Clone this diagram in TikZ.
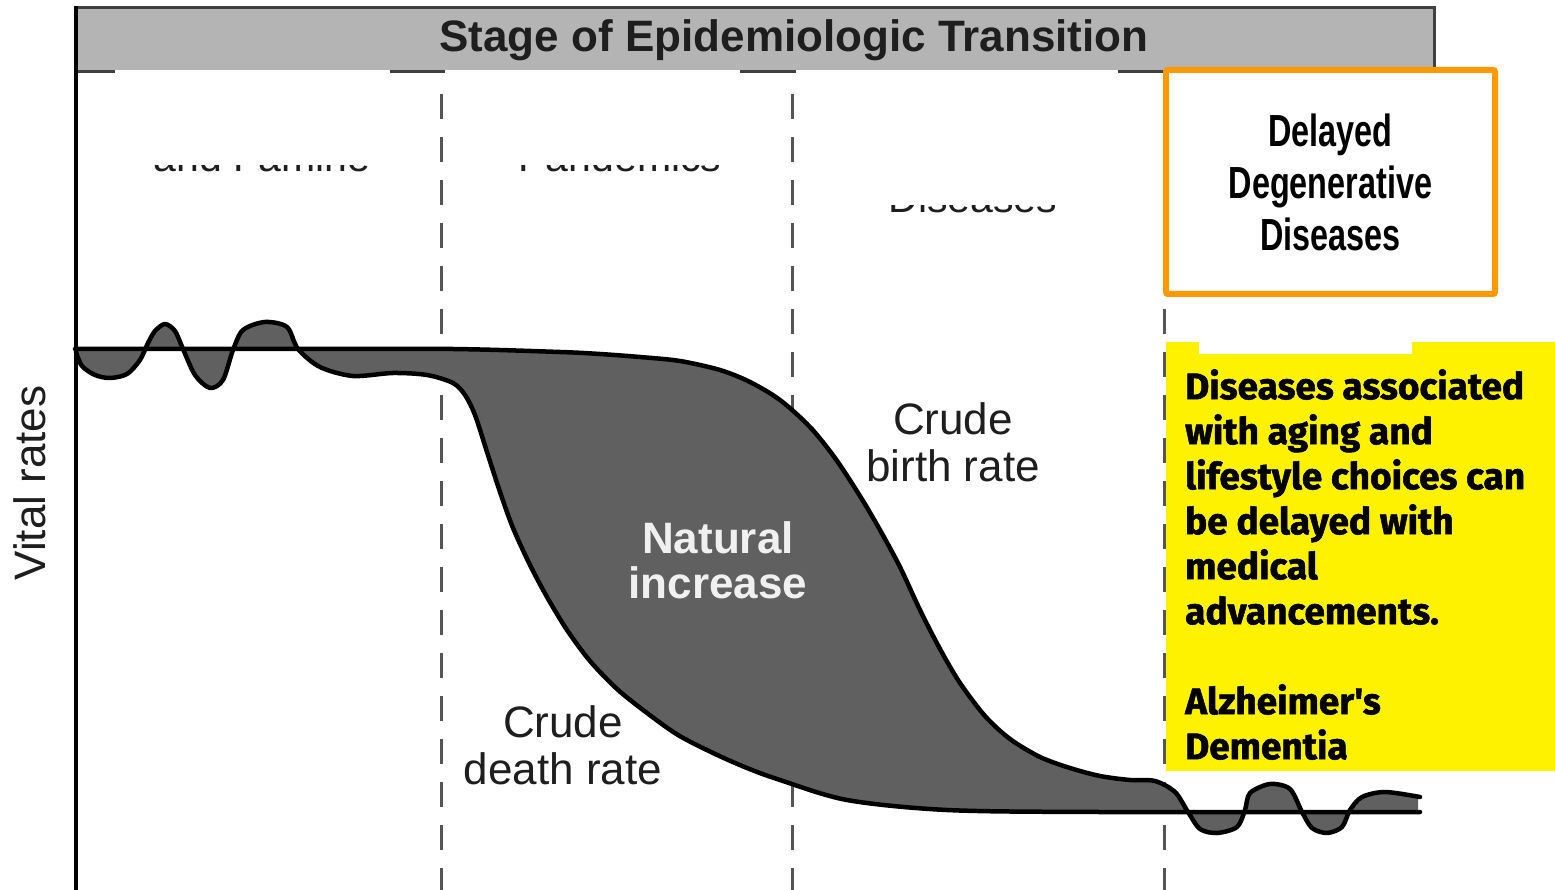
\documentclass[tikz,border=0pt]{standalone}
\usepackage{fontspec}
\setmainfont{Liberation Sans}
\newfontfamily\narrowfont[FakeStretch=0.72]{Liberation Sans}
\newfontfamily\notefont[BoldFeatures={FakeBold=1.5}]{Fira Sans}
\usepackage{tikz}
\usetikzlibrary{positioning,calc}

\definecolor{headgray}{RGB}{180,180,180}
\definecolor{areagray}{RGB}{96,96,96}
\definecolor{boxorange}{RGB}{255,153,0}
\definecolor{dashgray}{RGB}{85,85,85}
\definecolor{txtgray}{RGB}{30,30,30}

\newcommand{\birthcurve}{plot[smooth] coordinates {(75,349) (300,349) (453,349) (560,352) (600,354) (640,357) (680,361) (720,370) (750,382) (780,400) (810,427) (835,458) (860,496) (880,530) (900,567) (920,610) (940,649) (960,683) (985,716) (1010,739) (1040,757) (1070,768) (1100,776) (1130,780) (1155,781) (1175,792) (1188,812) (1200,829) (1217,833) (1237,827) (1245,810) (1250,793) (1270,784) (1290,789) (1302,812) (1312,828) (1327,833) (1342,827) (1350,810) (1362,797) (1385,792) (1420,797)}}
\newcommand{\deathcurve}{plot[smooth] coordinates {(76,352) (82,366) (95,375) (110,378) (127,374) (140,360) (148,343) (155,331) (165,324) (175,331) (183,349) (195,375) (210,388) (223,380) (233,350) (243,330) (265,322) (287,327) (298,349) (320,367) (353,376) (393,373) (427,375) (453,383) (465,395) (475,415) (487,452) (500,492) (513,528) (530,565) (547,597) (567,630) (590,661) (617,689) (647,713) (678,735) (713,753) (747,768) (780,780) (847,800) (947,810) (1100,812) (1420,812)}}

\begin{document}
\begin{tikzpicture}[x=1pt, y=-1pt,
  rate/.style={line width=4.5pt, line join=round, line cap=round},
  stagesep/.style={dashgray, line width=3pt, dash pattern=on 25pt off 18pt},
  lbl/.style={font=\fontsize{44}{47}\selectfont, text=txtgray, align=center, inner sep=0pt},
  stagetxt/.style={font=\fontsize{41}{41}\selectfont, text=txtgray, inner sep=0pt, anchor=base}]
\useasboundingbox (0,0) rectangle (1555,890);
\draw[draw=black!75, line width=3pt, fill=headgray] (76,8) rectangle (1434,72);
\node[font=\bfseries\fontsize{44}{44}\selectfont, text=txtgray] (title) at (794,40) {Stage of Epidemiologic Transition};
% stage names, mostly hidden
\node[stagetxt] (famine) at (262,172) {and Famine};
\node[stagetxt] (pandemics) at (620,172) {Pandemics};
\node[stagetxt] (diseases) at (973,213) {Diseases};
\fill[white] (115,70) rectangle (390,165);
\fill[white] (445,70) rectangle (740,165);
\fill[white] (796,70) rectangle (1118,205);
\foreach \x in {441,792,1164} \draw[stagesep] (\x,94) -- (\x,890);
% natural increase between the two rates
\begin{scope}
\clip (0,0) rectangle (1418,890);
\fill[areagray, even odd rule] \birthcurve -- (1420,900) -- (75,900) -- cycle \deathcurve -- (1420,900) -- (75,900) -- cycle;
\end{scope}
\draw[rate] \birthcurve;
\draw[rate] \deathcurve;
\draw[line width=4.5pt] (76,6) -- (76,890);
\node[lbl, rotate=90] (vital) at (30,483) {Vital rates};
\node[lbl] (birthlbl) at (953,442) {Crude\\birth rate};
\node[lbl] (deathlbl) at (563,745) {Crude\\death rate};
\node[lbl, font=\bfseries\fontsize{44}{45}\selectfont, text=white!94!black] (natinc) at (718,560) {Natural\\increase};
\node[draw=boxorange, line width=6pt, rounded corners=2pt, fill=white, minimum width=329pt, minimum height=224pt, align=center, font=\narrowfont\bfseries\fontsize{45}{52}\selectfont] (delayed) at (1330.5,182) {Delayed\\Degenerative\\Diseases};
\fill[yellow] (1166,342) rectangle (1555,771);
\fill[white] (1199,342) rectangle (1412,354);
\node[anchor=north west, inner sep=0pt, align=left, font=\notefont\bfseries\fontsize{37}{45}\selectfont] (note) at (1185,369) {Diseases associated\\with aging and\\lifestyle choices can\\be delayed with\\medical\\advancements.\\[45pt]Alzheimer's\\Dementia};
\end{tikzpicture}
\end{document}
